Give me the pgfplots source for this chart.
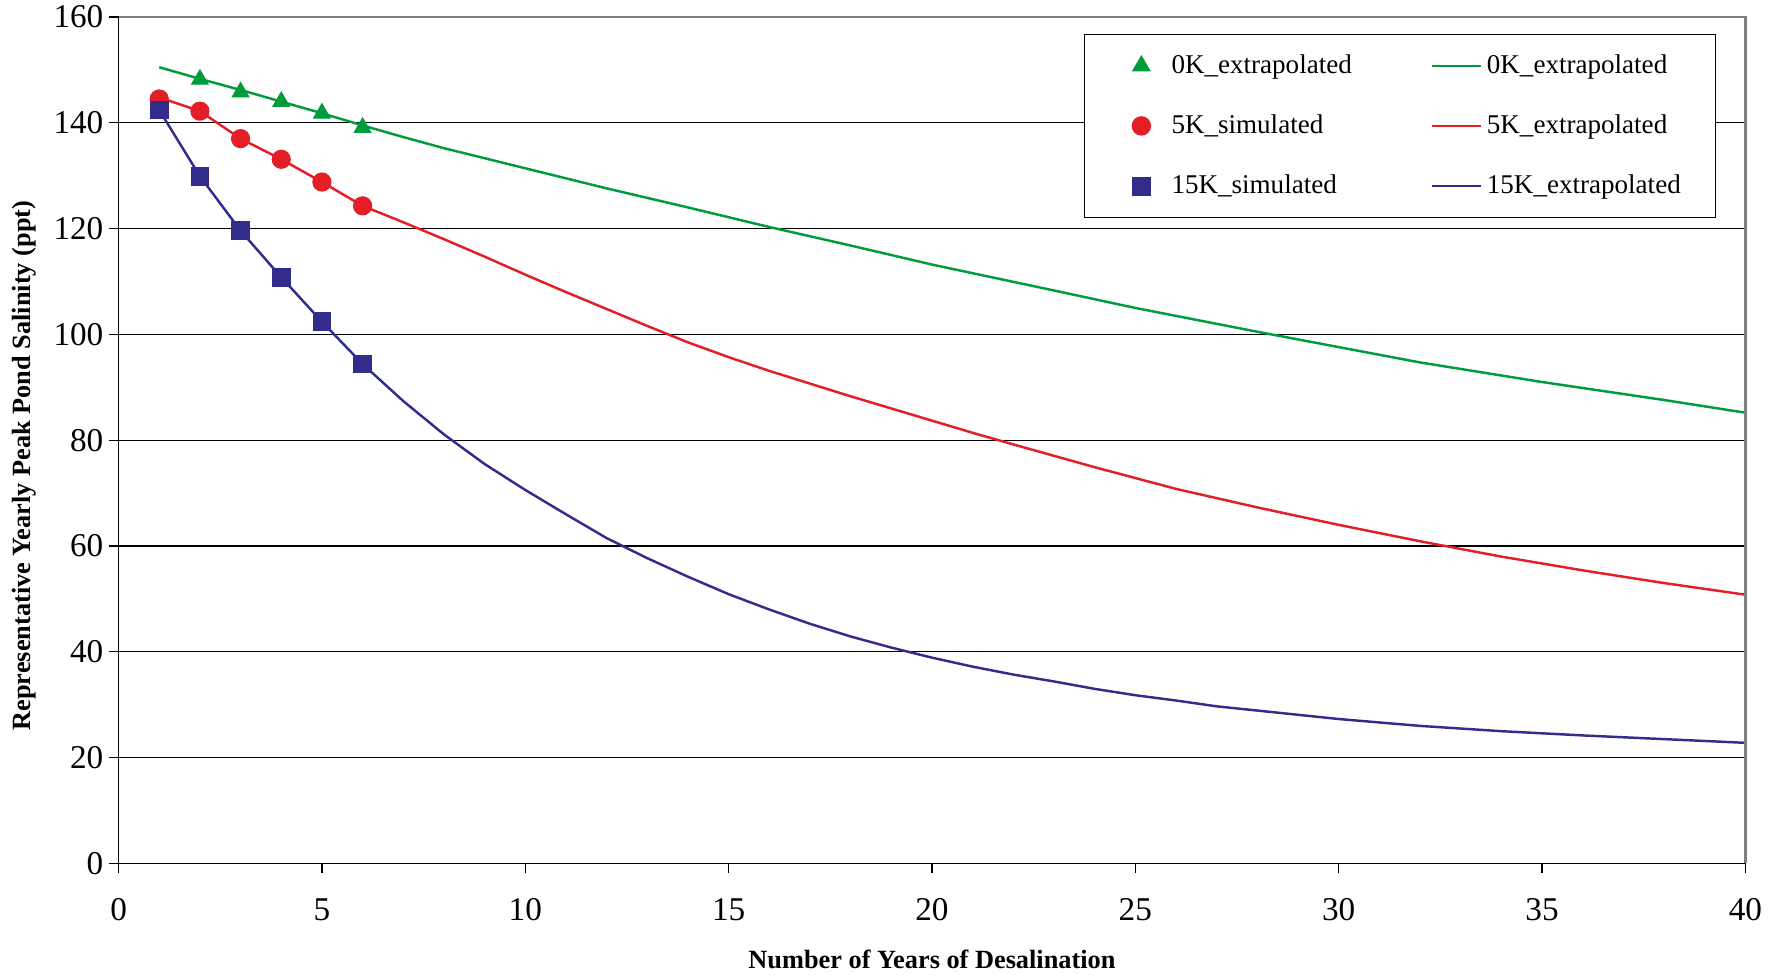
\documentclass[border=0pt]{standalone}
\usepackage{fontspec}
\setmainfont{Liberation Serif}
\usepackage{pgfplots}
\pgfplotsset{compat=1.18}
\definecolor{cgreen}{RGB}{0,155,60}
\definecolor{cred}{RGB}{228,30,38}
\definecolor{cblue}{RGB}{50,45,140}
\begin{document}
\fontsize{12pt}{14pt}\selectfont
\begin{tikzpicture}
\useasboundingbox (-48.2pt,-45.2pt) rectangle (676.2pt,351.0pt);
\begin{axis}[
  name=ax,
  at={(0,0)}, anchor=south west,
  scale only axis,
  width=661.3pt, height=344.1pt,
  xmin=0, xmax=40, ymin=0, ymax=160,
  xtick={0,5,...,40}, ytick={0,20,...,160},
  axis lines=left,
  axis line style={-, black, line width=0.6pt},
  tick align=outside,
  major tick length=4pt,
  tick style={black, line width=0.5pt},
  ymajorgrids,
  major grid style={black, line width=0.5pt},
  /pgf/number format/assume math mode=true,
  ticklabel style={font=\fontsize{13.5pt}{15pt}\selectfont},
  xticklabel style={yshift=-6pt},
  yticklabel style={xshift=2pt},
  xlabel={Number of Years of Desalination},
  ylabel={Representative Yearly Peak Pond Salinity (ppt)},
  xlabel style={font=\fontsize{10.7pt}{12pt}\selectfont\bfseries, at={(axis description cs:0.5,-0.113)}, anchor=center},
  ylabel style={font=\fontsize{10.7pt}{12pt}\selectfont\bfseries, at={(axis description cs:-0.058,0.47)}, anchor=center},
  legend columns=3,
  transpose legend,
  legend cell align=left,
  legend style={at={(axis description cs:1,1)}, anchor=north east, xshift=-12.0pt, yshift=-6.9pt,
    draw=black, line width=0.5pt, font=\fontsize{11pt}{13pt}\selectfont,
    inner xsep=12pt, inner ysep=6pt, row sep=11pt,
    /tikz/every even column/.append style={column sep=30pt}},
  legend image code/.code={\draw[mark repeat=2,mark phase=2,#1] plot coordinates {(0cm,0cm) (0.35cm,0cm) (0.7cm,0cm)};},
  mkleg/.style={legend image code/.code={\path (0pt,0pt) (21pt,0pt); \draw[##1] plot coordinates {(11pt,0pt)};}},
]
% markers
\addplot[only marks, mark=triangle*, mark size=3.9pt, color=cgreen, mkleg] coordinates {
(2,148.2) (3,145.8) (4,144.0) (5,141.8) (6,139.1)};
\addlegendentry{0K\_extrapolated}
\addplot[only marks, mark=*, mark size=3.7pt, color=cred, mkleg] coordinates {
(1,144.5) (2,142.2) (3,137.0) (4,133.1) (5,128.8) (6,124.3)};
\addlegendentry{5K\_simulated}
\addplot[only marks, mark=square*, mark size=3.6pt, color=cblue, mkleg] coordinates {
(1,142.4) (2,129.9) (3,119.6) (4,110.8) (5,102.4) (6,94.4)};
\addlegendentry{15K\_simulated}
% lines
\addplot[no marks, color=cgreen, line width=1pt] coordinates {
(1,150.5) (2,148.3) (3,146.2) (4,144.0) (5,141.8) (6,139.5) (7,137.3) (8,135.2) (9,133.3) (10,131.4)
(12,127.6) (14,124.0) (16,120.3) (18,116.8) (20,113.2) (23,108.3) (25,105.0) (28,100.5) (30,97.6)
(32,94.7) (35,91.0) (38,87.6) (40,85.2)};
\addlegendentry{0K\_extrapolated}
\addplot[no marks, color=cred, line width=1pt] coordinates {
(1,144.8) (2,142.2) (3,137.0) (4,133.1) (5,128.8) (6,124.3) (7,121.2) (8,118.0) (9,114.7) (10,111.3)
(11,108.0) (12,104.8) (13,101.6) (14,98.5) (15,95.7) (16,93.1) (17,90.7) (18,88.3) (19,86.0) (20,83.7)
(21,81.4) (22,79.2) (24,74.9) (26,70.8) (28,67.3) (30,64.0) (32,60.9) (34,58.0) (36,55.4) (38,53.0) (40,50.8)};
\addlegendentry{5K\_extrapolated}
\addplot[no marks, color=cblue, line width=1pt] coordinates {
(1,142.4) (2,129.9) (3,119.6) (4,110.8) (5,102.4) (6,94.4) (7,87.4) (8,81.1) (9,75.5) (10,70.6)
(11,66.0) (12,61.5) (13,57.7) (14,54.2) (15,50.9) (16,48.0) (17,45.3) (18,42.9) (19,40.8) (20,38.9)
(21,37.2) (22,35.7) (23,34.4) (24,33.0) (25,31.8) (26,30.8) (27,29.7) (28,28.9) (29,28.1) (30,27.3)
(32,26.0) (34,25.0) (36,24.2) (38,23.5) (40,22.8)};
\addlegendentry{15K\_extrapolated}
\end{axis}
\draw[gray, line width=1pt] (ax.north west) -- (ax.north east) -- (ax.south east);
\end{tikzpicture}
\end{document}
